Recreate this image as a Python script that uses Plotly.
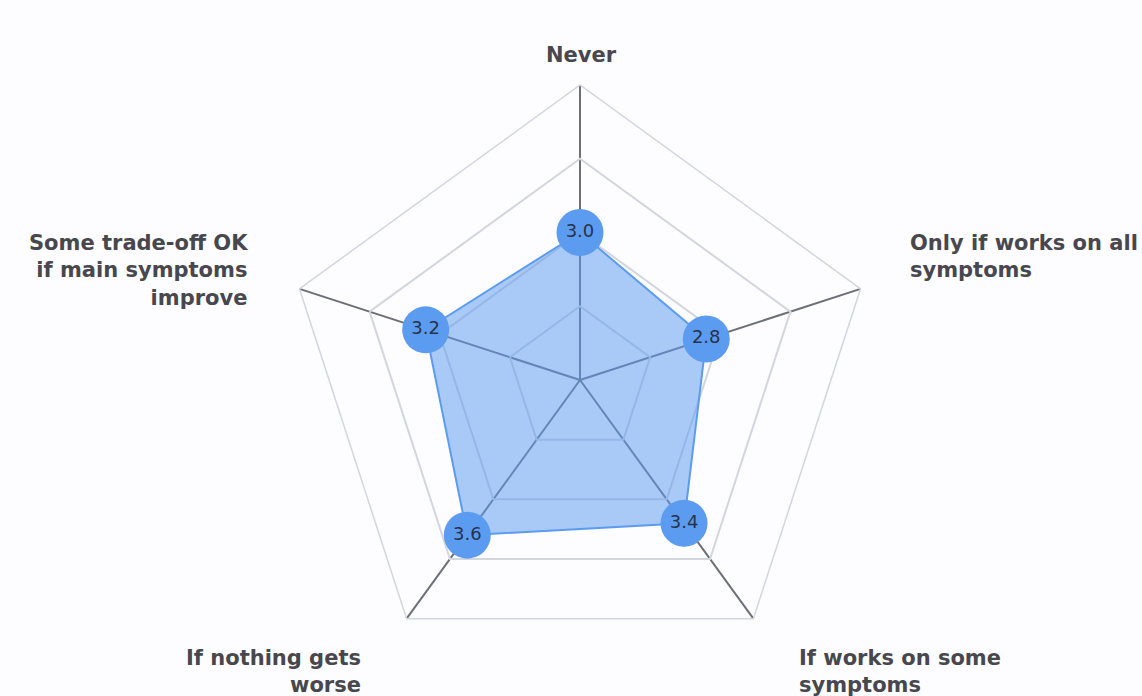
import plotly.graph_objects as go

categories = ["Never", "Only if works on all symptoms", "If works on some symptoms",
              "If nothing gets worse", "Some trade-off OK if main symptoms improve"]
label_text = ["Never", "Only if works on all<br>symptoms", "If works on some<br>symptoms",
              "If nothing gets<br>worse", "Some trade-off OK<br>if main symptoms<br>improve"]
values = [3.0, 2.8, 3.4, 3.6, 3.2]
value_labels = ["3.0", "2.8", "3.4", "3.6", "3.2"]
radial_ticks = [2, 3, 4, 5]

W, H = 1142, 696
cx, cy, R = 580, 380, 295

fig = go.Figure()
fig.add_trace(go.Scatterpolar(
    r=values + [values[0]],
    theta=categories + [categories[0]],
    mode="lines",
    fill="toself",
    fillcolor="rgba(92,156,240,0.52)",
    line=dict(color="#5b9cf1", width=2),
    hoverinfo="skip",
    showlegend=False,
))
fig.add_trace(go.Scatterpolar(
    r=values,
    theta=categories,
    mode="markers+text",
    marker=dict(size=47, color="#5b9cf1", line=dict(width=0)),
    text=value_labels,
    textposition="middle center",
    textfont=dict(family="DejaVu Sans", size=18, color="#28324a"),
    showlegend=False,
))

font_lab = dict(family="DejaVu Sans", size=21, color="#47474d")


def px(x):
    return x / W


def py(y):
    return 1 - y / H


ann_specs = [
    (label_text[0], 581, 55, "center", "center"),
    (label_text[1], 908, 256, "left", "left"),
    (label_text[2], 797, 671, "left", "left"),
    (label_text[3], 363, 671, "right", "right"),
    (label_text[4], 250, 270, "right", "right"),
]
annotations = []
for t, x, y, xa, al in ann_specs:
    annotations.append(dict(text="<b>" + t + "</b>", x=px(x), y=py(y), xref="paper", yref="paper",
                            xanchor=xa, yanchor="middle", align=al, showarrow=False, font=font_lab))

fig.update_layout(
    width=W, height=H,
    margin=dict(l=0, r=0, t=0, b=0),
    paper_bgcolor="#fdfcfe",
    plot_bgcolor="#fdfcfe",
    annotations=annotations,
    polar=dict(
        domain=dict(x=[(cx - R) / W, (cx + R) / W], y=[(H - cy - R) / H, (H - cy + R) / H]),
        bgcolor="rgba(0,0,0,0)",
        gridshape="linear",
        radialaxis=dict(range=[1, 5], tickvals=radial_ticks, showticklabels=False, ticks="",
                        showline=False, gridcolor="#d3d6de", gridwidth=1.5),
        angularaxis=dict(direction="clockwise", rotation=90, showticklabels=False, ticks="",
                         gridcolor="#6c6f77", gridwidth=1.6, linecolor="#d3d6de", linewidth=1.5),
    ),
)
fig.write_html("out.html", config={"displayModeBar": False},
               post_script="document.body.style.margin='0';document.body.style.overflow='hidden';")
